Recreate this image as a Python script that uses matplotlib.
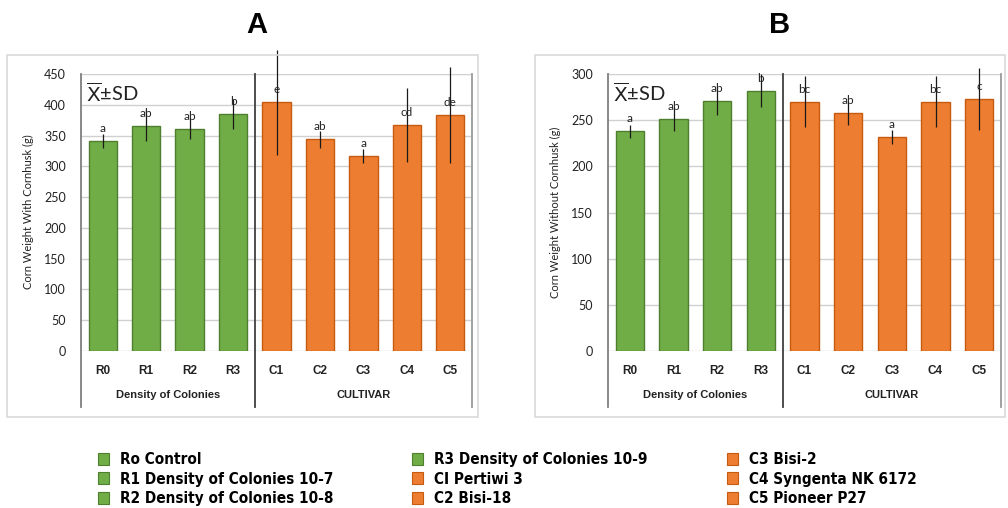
import matplotlib
matplotlib.use("Agg")
import matplotlib.pyplot as plt
from matplotlib import font_manager
from matplotlib.patches import Patch, Rectangle
import numpy as np

# data
cats = ['R0', 'R1', 'R2', 'R3', 'C1', 'C2', 'C3', 'C4', 'C5']
with_husk = [341, 366, 361, 385, 404, 344, 317, 367, 384]
with_husk_sd = [11, 25, 17, 24, 85, 14, 11, 60, 78]
with_husk_let = ['a', 'ab', 'ab', 'b', 'e', 'ab', 'a', 'cd', 'de']
without_husk = [238, 251, 271, 282, 270, 258, 232, 270, 273]
without_husk_sd = [7, 13, 15, 18, 27.5, 13, 7.5, 27.5, 34]
without_husk_let = ['a', 'ab', 'ab', 'b', 'bc', 'ab', 'a', 'bc', 'c']
groups = ['Density of Colonies', 'CULTIVAR']
legend_labels = ['Ro Control', 'R1 Density of Colonies 10-7', 'R2 Density of Colonies 10-8',
                 'R3 Density of Colonies 10-9', 'CI Pertiwi 3', 'C2 Bisi-18',
                 'C3 Bisi-2', 'C4 Syngenta NK 6172', 'C5 Pioneer P27']

green, green_edge = '#70AD47', '#4E7F2E'
orange, orange_edge = '#ED7D31', '#C55A11'
colors = [green] * 4 + [orange] * 5
edges = [green_edge] * 4 + [orange_edge] * 5

base_font = ['Lato', 'DejaVu Sans']
arial = ['Liberation Sans', 'DejaVu Sans']

# the legend uses a narrow bold face; take a condensed one if the system has it
narrow = None
for fam, stretch in [('Liberation Sans Narrow', 'normal'), ('DejaVu Sans', 'condensed')]:
    fp = font_manager.FontProperties(family=fam, weight='bold', stretch=stretch)
    try:
        path = font_manager.findfont(fp, fallback_to_default=False)
    except Exception:
        continue
    if 'Narrow' in path or 'Condensed' in path:
        narrow = font_manager.FontProperties(fname=path, size=11)
        break
if narrow is None:
    narrow = font_manager.FontProperties(family=arial, weight='bold', size=10.5)

W, H = 1008, 508
fig = plt.figure(figsize=(W / 100, H / 100), dpi=100)

def fx(px):
    return px / W

def fy(py):
    return 1 - py / H

# outer panel boxes
for x0, x1 in [(7, 478), (535, 1005)]:
    fig.patches.append(Rectangle((fx(x0), fy(417)), fx(x1 - x0), (417 - 55) / H,
                                 transform=fig.transFigure, fill=False,
                                 edgecolor='#d9d9d9', lw=1.2))

def panel(left_px, right_px, vals, sds, lets, ymax, ylabel, ylab_px, title, title_px):
    ax = fig.add_axes([fx(left_px), fy(351), fx(right_px - left_px), (351 - 74) / H])
    x = np.arange(len(cats))
    ax.bar(x, vals, width=0.65, color=colors, edgecolor=edges, linewidth=1.0, zorder=2)
    eb = ax.errorbar(x, vals, yerr=sds, fmt='none', ecolor='#1a1a1a', elinewidth=0.9,
                     capsize=0, zorder=3)
    for c in eb.lines[2]:
        c.set_clip_on(False)
    for xi, v, l in zip(x, vals, lets):
        ax.annotate(l, (xi, v), xytext=(0, 5), textcoords='offset points', ha='center',
                    va='bottom', fontsize=8.5, family=base_font, color='#222222')
    ax.set_xlim(-0.5, len(cats) - 0.5)
    ax.set_ylim(0, ymax)
    ax.set_yticks(np.arange(0, ymax + 1, 50))
    ax.yaxis.grid(True, color='#d0d0d0', lw=1)
    ax.set_axisbelow(True)
    for s in ax.spines.values():
        s.set_visible(False)
    ax.tick_params(axis='y', length=0, pad=11, labelsize=9, labelcolor='#222222')
    ax.tick_params(axis='x', length=0, pad=10)
    ax.set_xticks(x)
    ax.set_xticklabels(cats, fontsize=8.5, fontweight='bold', color='#222222', family=arial)
    for lab in ax.get_yticklabels():
        lab.set_family(base_font)
    # multi-level category axis lines
    ax.axvline(-0.5, ymin=-0.202, ymax=1, color='#7f7f7f', lw=1.3, clip_on=False)
    ax.axvline(3.5, ymin=-0.202, ymax=1, color='#404040', lw=1.3, clip_on=False)
    ax.axvline(len(cats) - 0.5, ymin=-0.202, ymax=1, color='#9a9a9a', lw=1.3, clip_on=False)
    trans = ax.get_xaxis_transform()
    ax.text(1.5, -0.16, groups[0], transform=trans, ha='center', va='center',
            fontsize=8, fontweight='bold', color='#222222', family=arial)
    ax.text(6.0, -0.16, groups[1], transform=trans, ha='center', va='center',
            fontsize=8, fontweight='bold', color='#222222', family=arial)
    ax.text(0.012, 0.975, r'$\overline{\mathsf{X}}$' + '\u00b1SD', transform=ax.transAxes,
            ha='left', va='top', fontsize=14.5, family=base_font, color='#222222')
    fig.text(fx(ylab_px), fy(212), ylabel, rotation=90, ha='center', va='center',
             fontsize=8, family=base_font, color='#222222')
    fig.text(fx(title_px), fy(25), title, ha='center', va='center', fontsize=21,
             fontweight='bold', family=arial)
    return ax

panel(81, 472, with_husk, with_husk_sd, with_husk_let, 450,
      'Corn Weight With Cornhusk (g)', 28, 'A', 257)
panel(608, 1001, without_husk, without_husk_sd, without_husk_let, 300,
      'Corn Weight Without Cornhusk (g)', 555, 'B', 780)

# legend in three columns
for col, x_px in enumerate([98, 412, 727]):
    idx = range(col * 3, col * 3 + 3)
    handles = [Patch(facecolor=colors[i], edgecolor=edges[i], lw=0.8) for i in idx]
    fig.legend(handles, [legend_labels[i] for i in idx], loc='upper left',
               bbox_to_anchor=(fx(x_px), fy(452)), frameon=False, prop=narrow,
               handlelength=0.75, handleheight=0.8, handletextpad=0.7,
               labelspacing=0.3, borderpad=0, borderaxespad=0)

fig.savefig('out.png', dpi=100)
